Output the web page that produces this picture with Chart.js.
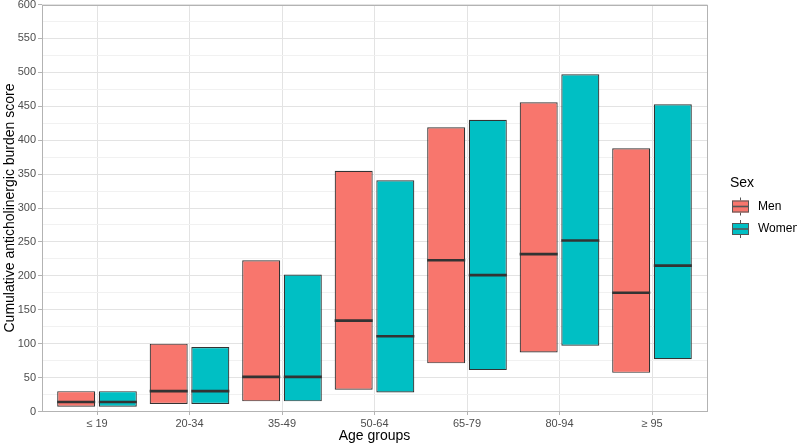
<!DOCTYPE html>
<html>
<head>
<meta charset="utf-8">
<script src="https://cdn.jsdelivr.net/npm/chart.js@4/dist/chart.umd.min.js"></script>
<style>
  html, body { margin: 0; padding: 0; background: #ffffff; }
  #wrap { width: 797px; height: 445px; }
</style>
</head>
<body>
<div id="wrap"><canvas id="c" width="797" height="445"></canvas></div>
<script>
// ---- data ----
const ageGroups = ['≤ 19', '20-34', '35-49', '50-64', '65-79', '80-94', '≥ 95'];
const seriesNames = ['Men', 'Women'];
const menLow    = [7, 11, 15, 32, 71, 87, 57];
const menMedian = [14, 30, 51, 134, 223, 232, 175];
const menHigh   = [30, 100, 223, 355, 419, 456, 388];
const womenLow    = [7, 11, 15, 28, 61, 97, 77];
const womenMedian = [14, 30, 51, 111, 201, 252, 215];
const womenHigh   = [30, 95, 202, 341, 430, 497, 453];
const yTicks = [0, 50, 100, 150, 200, 250, 300, 350, 400, 450, 500, 550, 600];

const menColor = '#F8766D';
const womenColor = '#00BFC4';
const edge = '#333333';
const FONT = "'Liberation Sans', Arial, Helvetica, sans-serif";

function toPoints(lo, hi) {
  return ageGroups.map((_, i) => ({ x: i, y: [lo[i], hi[i]] }));
}

const medians = [menMedian, womenMedian];

const medianPlugin = {
  id: 'medianLines',
  afterDatasetsDraw(chart) {
    const ctx = chart.ctx;
    const yScale = chart.scales.y;
    ctx.save();
    ctx.strokeStyle = edge;
    ctx.lineWidth = 2.6;
    chart.data.datasets.forEach((ds, di) => {
      const meta = chart.getDatasetMeta(di);
      meta.data.forEach((bar, i) => {
        const y = yScale.getPixelForValue(medians[di][i]);
        const half = bar.width / 2;
        ctx.beginPath();
        ctx.moveTo(bar.x - half, y);
        ctx.lineTo(bar.x + half, y);
        ctx.stroke();
      });
    });
    ctx.restore();
  }
};

const panelPlugin = {
  id: 'panelBorder',
  afterDraw(chart) {
    const a = chart.chartArea;
    const ctx = chart.ctx;
    ctx.save();
    ctx.strokeStyle = '#B3B3B3';
    ctx.lineWidth = 1;
    ctx.strokeRect(Math.round(a.left) + 0.5, Math.round(a.top) + 0.5,
                   Math.round(a.right - a.left) - 1, Math.round(a.bottom - a.top) - 1);
    ctx.restore();

    // legend (ggplot style)
    const lx = 730, ly = 183;
    ctx.save();
    ctx.fillStyle = '#000000';
    ctx.font = '14px ' + FONT;
    ctx.textBaseline = 'middle';
    ctx.textAlign = 'left';
    ctx.fillText('Sex', lx, ly);
    const keys = [{ c: menColor, y: 206.5 }, { c: womenColor, y: 229 }];
    keys.forEach((k, i) => {
      const kx = 732, kw = 17;
      const cx = kx + kw / 2;
      ctx.strokeStyle = '#555555';
      ctx.lineWidth = 1;
      ctx.beginPath();
      ctx.moveTo(cx, k.y - 9); ctx.lineTo(cx, k.y - 6);
      ctx.moveTo(cx, k.y + 6); ctx.lineTo(cx, k.y + 9);
      ctx.stroke();
      ctx.fillStyle = k.c;
      ctx.fillRect(kx, k.y - 6, kw, 12);
      ctx.strokeRect(kx + 0.5, k.y - 5.5, kw - 1, 11);
      ctx.lineWidth = 1.6;
      ctx.beginPath();
      ctx.moveTo(kx, k.y); ctx.lineTo(kx + kw, k.y);
      ctx.stroke();
      ctx.fillStyle = '#000000';
      ctx.font = '12px ' + FONT;
      ctx.fillText(seriesNames[i], 758, k.y);
    });
    ctx.restore();
  }
};

new Chart(document.getElementById('c'), {
  type: 'bar',
  data: {
    datasets: [
      { label: seriesNames[0], data: toPoints(menLow, menHigh),
        backgroundColor: menColor, borderColor: edge, borderWidth: 1.2, borderSkipped: false,
        categoryPercentage: 0.9, barPercentage: 0.913 },
      { label: seriesNames[1], data: toPoints(womenLow, womenHigh),
        backgroundColor: womenColor, borderColor: edge, borderWidth: 1.2, borderSkipped: false,
        categoryPercentage: 0.9, barPercentage: 0.913 }
    ]
  },
  options: {
    responsive: false,
    animation: false,
    devicePixelRatio: 1,
    layout: { padding: { left: 0, right: 89.5, top: 4.5, bottom: 0 } },
    plugins: { legend: { display: false }, tooltip: { enabled: false } },
    scales: {
      x: {
        type: 'linear',
        offset: false,
        min: -0.6,
        max: 6.6,
        afterBuildTicks(scale) {
          scale.ticks = ageGroups.map((_, i) => ({ value: i }));
        },
        afterFit(scale) {
          scale.height = 33.5;
          scale.paddingLeft = 0;
          scale.paddingRight = 0;
        },
        ticks: {
          autoSkip: false,
          maxRotation: 0,
          padding: 2,
          color: '#4D4D4D',
          font: { family: FONT, size: 11 },
          callback: (v) => ageGroups[v] !== undefined ? ageGroups[v] : ''
        },
        grid: { offset: false, color: '#E3E3E3', lineWidth: 1, tickLength: 3.5, tickColor: '#B3B3B3' },
        border: { display: false },
        title: {
          display: true, text: 'Age groups', color: '#000000',
          font: { family: FONT, size: 14 }, padding: { top: 0, bottom: 0 }
        }
      },
      y: {
        min: 0,
        max: 600,
        afterBuildTicks(scale) {
          const t = [];
          for (let v = 0; v <= 600; v += 25) t.push({ value: v });
          scale.ticks = t;
        },
        afterFit(scale) {
          scale.width = 41.5;
          scale.paddingTop = 0;
          scale.paddingBottom = 0;
        },
        ticks: {
          autoSkip: false,
          padding: 2,
          color: '#4D4D4D',
          font: { family: FONT, size: 11 },
          callback: (v) => yTicks.includes(v) ? String(v) : ''
        },
        grid: {
          color: (c) => (c.tick && c.tick.value % 50 === 0) ? '#E3E3E3' : '#F1F1F1',
          lineWidth: 1,
          tickLength: 3.5,
          tickColor: (c) => (c.tick && c.tick.value % 50 === 0) ? '#B3B3B3' : 'rgba(0,0,0,0)'
        },
        border: { display: false },
        title: {
          display: true, text: 'Cumulative anticholinergic burden score', color: '#000000',
          font: { family: FONT, size: 14 }, padding: { top: 2, bottom: 0 }
        }
      }
    }
  },
  plugins: [medianPlugin, panelPlugin]
});
</script>
</body>
</html>
